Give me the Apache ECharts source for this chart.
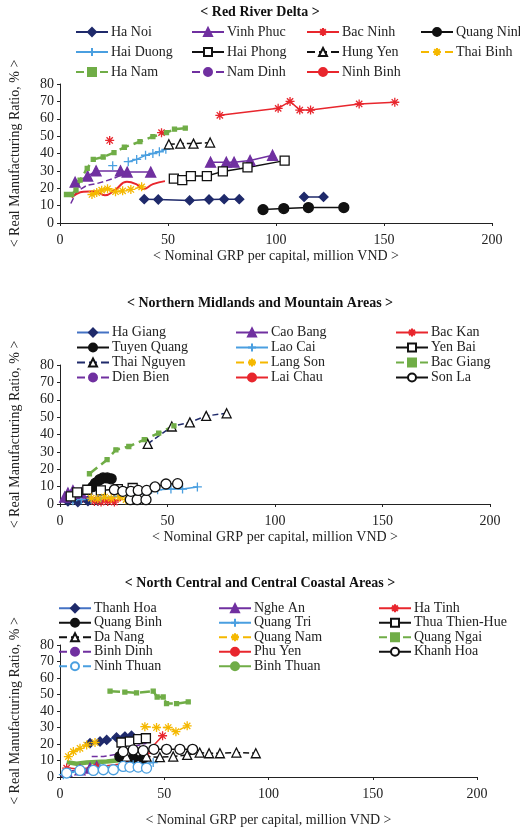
<!DOCTYPE html>
<html><head><meta charset="utf-8">
<script src="https://cdn.jsdelivr.net/npm/echarts@6/dist/echarts.min.js"></script>
<style>body{margin:0}#c{width:520px;height:830px}</style>
</head><body><div id="c"></div>
<script>
// panel titles and axis labels
const panelTitles = ['< Red River Delta >', '< Northern Midlands and Mountain Areas >', '< North Central and Central Coastal Areas >']
const xName = '< Nominal GRP per capital, million VND >'
const yName = '< Real Manufacturing Ratio, % >'

// ---- Red River Delta ----
const haNoi = [[39,13.7],[45.5,13.5],[60,13],[69,13.5],[76,13.7],[83,13.7],'-',[113,15],[122,15]]
const vinhPhuc = [[7,23.5],[12.8,27],[16.7,30],[28,30],[31.1,29.3],[42,29.3],'-',[69.7,35],[77,35],[80.6,35],[88,36],[98.4,39]]
const bacNinh = [[23,47.5],'-',[47,52],'-',[74,62],[101,66],[106.5,70],[111,65],[116,65],[138.5,68.5],[155,69.5]]
const quangNinh = [[94,7.7],[103.6,8.3],[115,8.9],[131.4,8.9]]
const haiDuong = [[24.4,33],'-',[31.6,35.3],[35.5,36.6],[39.6,39],[43,40],[46,41],[49,42.4]]
const haiPhong = [[52.7,25.5],[56.6,24.7],[60.6,27],[68,27],[75.4,29.7],[86.8,32],[104,35.9]]
const hungYen = [[50.4,45.3],[55.7,45.7],[61.8,45.7],[69.5,46.3]]
const thaiBinh = [[14.8,16.4],[17,17.5],[19.3,18.9],[22,19.7],[25.7,18],[29,18.5],[32.8,19.3],[37.8,20.8]]
const haNam = [[3,16.4],[5.4,16.4],[7.4,18.9],[9.3,24.7],[12.6,31.4],[15.4,36.6],[20,38],[25,40.5],[29.8,43.6],[37,46.8],[43,49.7],[49.3,52],[53,54],[58,54.6]]
const namDinh = [[5,11.2],[7.7,18],[12.6,21.8],[17,22.7],[20,23.7],[24.7,25.6],[28.5,27.6]]
const ninhBinh = [[5.4,14.7],[10.8,18],[16.2,18.3],[20.8,16],[25.4,18.9],[31,23.7],[35.5,22.2],[38.5,19.5],[43,22.4],[48.6,24.1]]

// ---- Northern Midlands and Mountain Areas ----
const haGiang = [[3.7,1.5],[8.3,1.1],[13,1.7],[17.6,1.9]]
const caoBang = [[2.2,4],[3.7,6.3],[6,7.7],[9.9,6.3]]
const bacKan = [[16,1.5],[19.1,1.1],[22.2,1.5],[25.3,1.1]]
const tuyenQuang = [[15.3,10],[16.5,12],[18.4,14],[20,15],[22,15],[23.8,14.5]]
const laoCai = [[6,1.9],[9.9,2.5],[14.5,2.9],[19,3.4],[40.8,6.3],[45.4,8.2],[51.6,8.6],[57,8.6],[63.9,9.8]]
const yenBai = [[5,4.4],[8,6.7],[12.7,8.2],[19,7.8],[26.9,8.6],[33.8,9.2]]
const thaiNguyen = [[40.8,34.6],[52,44.6],[60.4,47],[68,50.7],[77.5,52.2]]
const langSon = [[14.5,3.4],[17.6,3],[20.7,4],[23.8,3.3],[27.6,4],[30.7,2.5]]
const bacGiang = [[13.7,17.4],[21.9,25.5],[26,31.2],[32,33.1],[39.2,37],[45.9,40.8],[53,45]]
const dienBien = [[6.8,1.5],[9.9,3.4],[13,4.4]]
const laiChau = [[9.9,1.5],[16,1.7],[22.2,1.9],[28.4,2.1]]
const sonLa = [[32.7,2.5],[35.9,2.5],[40,2.5],'-',[25.3,8.2],[29.2,7.3],[33,7.3],[36.4,7.8],[40.3,7.8],[44.2,9.8],[49.3,11.5],[54.7,11.7]]

// ---- North Central and Central Coastal Areas ----
const thanhHoa = [[14.4,20.5],[19.2,21.5],[22.4,22.5],[27.1,24],[31.1,24.5],[34.3,25]]
const ngheAn = [[3.2,3.4],[9.6,4.4],[14.4,5.4],[17.6,6.4]]
const haTinh = [[3.2,5.4],[9.6,4.8],[17.6,6],[31.9,8.4],[41.5,14.4],[49.2,25]]
const quangBinh = [[28.7,12.4],[35.1,11.4],[39.9,11.4]]
const quangTri = [[1.6,1.4],[4.8,2.8],[9.6,4.4],[19.2,5.4],[35.1,7.4],[44.7,8.8]]
const thuaThienHue = [[29.5,20.9],[33.5,21.5],[37.5,22.9],[41.2,23.5]]
const daNang = [[31.9,12.4],[41.5,12.4],[47.9,12],[54.3,12.4],[61,13.4],[67,14.8],[71.5,14.4],[76.7,14.4],[84.6,14.8],[93.9,14.4]]
const quangNam = [[4,12.4],[6.4,15.4],[9.6,17.4],[12.8,19.4],[16.8,20.9],'-',[40.7,30.5],[46.3,30],[51.9,30],[55.6,27.5],[61,31]]
const quangNgai = [[24,52],[31.1,51.5],[36.7,51],[44.7,52],[46.6,48.5],[49.5,48.5],[51.1,44.5],[55.9,44.5],[61.5,45.5]]
const binhDinh = [[15.2,12.4],[20.8,12.4],[28.7,14],[35.1,18.4],[41.5,20.5]]
const phuYen = [[28.7,10],[35.1,10.4],[41.5,10]]
const khanhHoa = [[30.3,15.4],[35.1,16.4],[39.9,16],[45,16.8],[51.1,16.8],[57.5,16.8],[63.6,16.8]]
const ninhThuan = [[3.2,2.4],[9.6,4],[16,4],[20.8,4.4],[25.6,4.4],[30.3,6.4],[33.5,6],[37.5,6],[41.5,5.4]]
const binhThuan = [[3.2,9],[8,8],[12.8,8.8],[22.4,9.4],[27.1,10],[32.7,10.8]]

const FONT = '"Liberation Serif", "DejaVu Serif", serif'
const NAVY = '#1f2a6b', PURPLE = '#7030a0', RED = '#e8262d', BLUE = '#4a9fe0', MIDBLUE = '#4472c4', YELLOW = '#f5b800', GREEN = '#70ad47'
const STAR = 'path://M0,5L10,5M5,0L5,10M1.5,1.5L8.5,8.5M8.5,1.5L1.5,8.5'
const PLUS = 'path://M0,5L10,5M5,0L5,10'
const NOICON = 'path://M0,5L0.01,5'

const mk = (name, data, panel, o) => {
  const s = {
    name, type: 'line', data, xAxisIndex: panel, yAxisIndex: panel,
    symbol: o.symbol || 'none', symbolSize: o.size || 8, smooth: o.smooth || false,
    lineStyle: { color: o.line, width: o.width || 1.5, type: o.dash ? 'dashed' : 'solid' },
    itemStyle: { color: o.fill || o.mark || o.line, borderColor: o.mark || o.line, borderWidth: o.bw || 1.3 },
    emphasis: { disabled: true }
  }
  if (!o.symbol) s.legendIcon = NOICON
  return s
}

const series = [
  mk('Ha Noi', haNoi, 0, { line: NAVY, symbol: 'diamond', size: 9 }),
  mk('Vinh Phuc', vinhPhuc, 0, { line: PURPLE, symbol: 'triangle', size: 10 }),
  mk('Bac Ninh', bacNinh, 0, { line: RED, symbol: STAR, size: 9 }),
  mk('Quang Ninh', quangNinh, 0, { line: '#111', symbol: 'circle', size: 10 }),
  mk('Hai Duong', haiDuong, 0, { line: BLUE, symbol: PLUS, size: 9 }),
  mk('Hai Phong', haiPhong, 0, { line: '#111', symbol: 'rect', size: 9, fill: '#fff' }),
  mk('Hung Yen', hungYen, 0, { line: '#111', dash: true, symbol: 'triangle', size: 9, fill: '#fff' }),
  mk('Thai Binh', thaiBinh, 0, { line: YELLOW, dash: true, symbol: STAR, size: 9 }),
  mk('Ha Nam', haNam, 0, { line: GREEN, dash: true, width: 2.5, symbol: 'rect', size: 4 }),
  mk('Nam Dinh', namDinh, 0, { line: PURPLE, dash: true }),
  mk('Ninh Binh', ninhBinh, 0, { line: RED, smooth: true, width: 2 }),

  mk('Ha Giang', haGiang, 1, { line: MIDBLUE, mark: NAVY, symbol: 'diamond', size: 9 }),
  mk('Cao Bang', caoBang, 1, { line: PURPLE, symbol: 'triangle', size: 10 }),
  mk('Bac Kan', bacKan, 1, { line: RED, symbol: STAR, size: 9 }),
  mk('Tuyen Quang', tuyenQuang, 1, { line: '#111', symbol: 'circle', size: 10 }),
  mk('Lao Cai', laoCai, 1, { line: BLUE, symbol: PLUS, size: 9 }),
  mk('Yen Bai', yenBai, 1, { line: '#111', symbol: 'rect', size: 9, fill: '#fff' }),
  mk('Thai Nguyen', thaiNguyen, 1, { line: NAVY, mark: '#111', dash: true, symbol: 'triangle', size: 9, fill: '#fff' }),
  mk('Lang Son', langSon, 1, { line: YELLOW, dash: true, symbol: STAR, size: 9 }),
  mk('Bac Giang', bacGiang, 1, { line: GREEN, dash: true, width: 2.5, symbol: 'rect', size: 4 }),
  mk('Dien Bien', dienBien, 1, { line: PURPLE, dash: true }),
  mk('Lai Chau', laiChau, 1, { line: RED, width: 2 }),
  mk('Son La', sonLa, 1, { line: '#111', symbol: 'circle', size: 10, fill: '#fff' }),

  mk('Thanh Hoa', thanhHoa, 2, { line: MIDBLUE, mark: NAVY, symbol: 'diamond', size: 9 }),
  mk('Nghe An', ngheAn, 2, { line: PURPLE, symbol: 'triangle', size: 10 }),
  mk('Ha Tinh', haTinh, 2, { line: RED, symbol: STAR, size: 9 }),
  mk('Quang Binh', quangBinh, 2, { line: '#111', symbol: 'circle', size: 10 }),
  mk('Quang Tri', quangTri, 2, { line: BLUE, symbol: PLUS, size: 9 }),
  mk('Thua Thien-Hue', thuaThienHue, 2, { line: '#111', symbol: 'rect', size: 9, fill: '#fff' }),
  mk('Da Nang', daNang, 2, { line: '#111', dash: true, symbol: 'triangle', size: 9, fill: '#fff' }),
  mk('Quang Nam', quangNam, 2, { line: YELLOW, dash: true, symbol: STAR, size: 9 }),
  mk('Quang Ngai', quangNgai, 2, { line: GREEN, dash: true, width: 2.5, symbol: 'rect', size: 4 }),
  mk('Binh Dinh', binhDinh, 2, { line: PURPLE, dash: true }),
  mk('Phu Yen', phuYen, 2, { line: RED, width: 2 }),
  mk('Khanh Hoa', khanhHoa, 2, { line: '#111', symbol: 'circle', size: 10, fill: '#fff' }),
  mk('Ninh Thuan', ninhThuan, 2, { line: BLUE, dash: true, symbol: 'circle', size: 10, fill: '#fff' }),
  mk('Binh Thuan', binhThuan, 2, { line: GREEN, width: 4.5 })
]

const grids = [
  { left: 60, width: 432, top: 84, height: 139 },
  { left: 58, width: 432, top: 365, height: 139 },
  { left: 60, width: 417, top: 645, height: 132 }
]
const titleTops = [0, 291, 571]

// legend columns: [left, top, row height, names]
const legendCols = [
  [75, 22, 20, ['Ha Noi', 'Hai Duong', 'Ha Nam']],
  [191, 22, 20, ['Vinh Phuc', 'Hai Phong', 'Nam Dinh']],
  [306, 22, 20, ['Bac Ninh', 'Hung Yen', 'Ninh Binh']],
  [420, 22, 20, ['Quang Ninh', 'Thai Binh']],
  [76, 325, 15, ['Ha Giang', 'Tuyen Quang', 'Thai Nguyen', 'Dien Bien']],
  [235, 325, 15, ['Cao Bang', 'Lao Cai', 'Lang Son', 'Lai Chau']],
  [395, 325, 15, ['Bac Kan', 'Yen Bai', 'Bac Giang', 'Son La']],
  [58, 601, 14.5, ['Thanh Hoa', 'Quang Binh', 'Da Nang', 'Binh Dinh', 'Ninh Thuan']],
  [218, 601, 14.5, ['Nghe An', 'Quang Tri', 'Quang Nam', 'Phu Yen', 'Binh Thuan']],
  [378, 601, 14.5, ['Ha Tinh', 'Thua Thien-Hue', 'Quang Ngai', 'Khanh Hoa']]
]

const chart = echarts.init(document.getElementById('c'), null, { renderer: 'canvas' })
chart.setOption({
  animation: false,
  backgroundColor: '#fff',
  textStyle: { fontFamily: FONT },
  title: panelTitles.map((t, i) => ({
    text: t, left: 'center', top: titleTops[i],
    textStyle: { fontFamily: FONT, fontSize: 14, fontWeight: 'bold', color: '#111' }
  })),
  legend: legendCols.map(c => ({
    data: c[3], orient: 'vertical', left: c[0], top: c[1], itemGap: 0,
    itemWidth: 32, itemHeight: 10, padding: 0, selectedMode: false,
    textStyle: { fontFamily: FONT, fontSize: 14, color: '#222', lineHeight: c[2], height: c[2], padding: [0, 0, 0, -2] }
  })),
  grid: grids,
  xAxis: grids.map((g, i) => ({
    type: 'value', gridIndex: i, min: 0, max: 200, interval: 50,
    name: xName, nameLocation: 'middle', nameGap: i === 2 ? 36 : 26,
    nameTextStyle: { fontFamily: FONT, fontSize: 14, color: '#222' },
    axisLine: { lineStyle: { color: '#222' } }, axisTick: { show: true, length: 3, lineStyle: { color: '#222' } },
    axisLabel: { fontFamily: FONT, fontSize: 14, color: '#222', margin: 10 },
    splitLine: { show: false }
  })),
  yAxis: grids.map((g, i) => ({
    type: 'value', gridIndex: i, min: 0, max: 80, interval: 10,
    name: yName, nameLocation: 'middle', nameGap: 38,
    nameTextStyle: { fontFamily: FONT, fontSize: 14, color: '#222' },
    axisLine: { show: true, lineStyle: { color: '#222' } }, axisTick: { show: true, length: 3, lineStyle: { color: '#222' } },
    axisLabel: { fontFamily: FONT, fontSize: 14, color: '#222', margin: 6 },
    splitLine: { show: false }
  })),
  series
})
</script></body></html>
